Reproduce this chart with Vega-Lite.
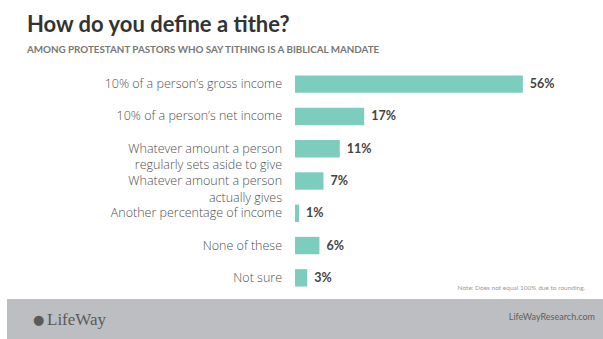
{
  "$schema": "https://vega.github.io/schema/vega-lite/v6.json",
  "padding": {"left": 7, "top": 14, "right": 0, "bottom": 0},
  "background": "white",
  "title": {
    "text": "How do you define a tithe?",
    "subtitle": "AMONG PROTESTANT PASTORS WHO SAY TITHING IS A BIBLICAL MANDATE",
    "anchor": "start",
    "frame": "group",
    "dx": 20,
    "font": "Lato",
    "fontSize": 22,
    "fontWeight": "bold",
    "color": "#333333",
    "lineHeight": 22,
    "subtitleFont": "Lato",
    "subtitleFontSize": 9.8,
    "subtitleFontWeight": "bold",
    "subtitleColor": "#777777",
    "subtitlePadding": 8,
    "offset": 12
  },
  "config": {"view": {"stroke": null}},
  "spacing": 5,
  "vconcat": [
    {
      "width": 596,
      "height": 226,
      "data": {
        "values": [
          {"answer": "10% of a person’s gross income", "pct": 56, "label": "56%"},
          {"answer": "10% of a person’s net income", "pct": 17, "label": "17%"},
          {"answer": "Whatever amount a person|regularly sets aside to give", "pct": 11, "label": "11%"},
          {"answer": "Whatever amount a person|actually gives", "pct": 7, "label": "7%"},
          {"answer": "Another percentage of  income", "pct": 1, "label": "1%"},
          {"answer": "None of these", "pct": 6, "label": "6%"},
          {"answer": "Not sure", "pct": 3, "label": "3%"}
        ]
      },
      "encoding": {
        "y": {
          "field": "answer",
          "type": "nominal",
          "sort": null,
          "axis": null,
          "scale": {"paddingInner": 0.46, "paddingOuter": 0.23}
        }
      },
      "layer": [
        {
          "mark": {"type": "bar", "color": "#7dcdbf"},
          "encoding": {
            "x": {
              "field": "pct",
              "type": "quantitative",
              "scale": {"domain": [-70.8, 75.7], "nice": false, "zero": false},
              "axis": null
            }
          }
        },
        {
          "mark": {"type": "text", "align": "left", "baseline": "middle", "dx": 7, "font": "Lato", "fontWeight": "bold", "fontSize": 12.5, "color": "#444444"},
          "encoding": {
            "x": {"field": "pct", "type": "quantitative"},
            "text": {"field": "label"}
          }
        },
        {
          "mark": {"type": "text", "align": "right", "baseline": "middle", "dx": -13, "lineBreak": "|", "lineHeight": 16.5, "font": "Open Sans", "fontWeight": 300, "fontSize": 12.5, "color": "#505050"},
          "encoding": {
            "x": {"datum": 0},
            "text": {"field": "answer"}
          }
        },
        {
          "data": {"values": [{"note": "Note: Does not equal 100% due to rounding."}]},
          "mark": {"type": "text", "align": "right", "baseline": "middle", "dy": 10, "font": "Lato", "fontSize": 6.5, "color": "#9a9a9a"},
          "encoding": {
            "x": {"datum": 71.3},
            "y": {"datum": "Not sure"},
            "text": {"field": "note"}
          }
        }
      ]
    },
    {
      "width": 596,
      "height": 41,
      "view": {"fill": "#bdbec1", "stroke": null},
      "data": {"values": [{"icon": "●", "logo": "LifeWay", "url": "LifeWayResearch.com"}]},
      "layer": [
        {
          "mark": {"type": "text", "align": "left", "baseline": "middle", "font": "DejaVu Sans", "fontSize": 13, "color": "#5a5a5a"},
          "encoding": {
            "x": {"datum": 26, "scale": {"domain": [0, 596], "nice": false, "zero": false}, "axis": null},
            "y": {"datum": 0.5, "scale": {"domain": [0, 1]}, "axis": null},
            "text": {"field": "icon"}
          }
        },
        {
          "mark": {"type": "text", "align": "left", "baseline": "middle", "font": "Liberation Serif", "fontSize": 17, "color": "#5a5a5a"},
          "encoding": {
            "x": {"datum": 40},
            "y": {"datum": 0.5},
            "text": {"field": "logo"}
          }
        },
        {
          "mark": {"type": "text", "align": "right", "baseline": "middle", "font": "Lato", "fontSize": 9, "color": "#5e5e5e"},
          "encoding": {
            "x": {"datum": 588},
            "y": {"datum": 0.55},
            "text": {"field": "url"}
          }
        }
      ]
    }
  ]
}
